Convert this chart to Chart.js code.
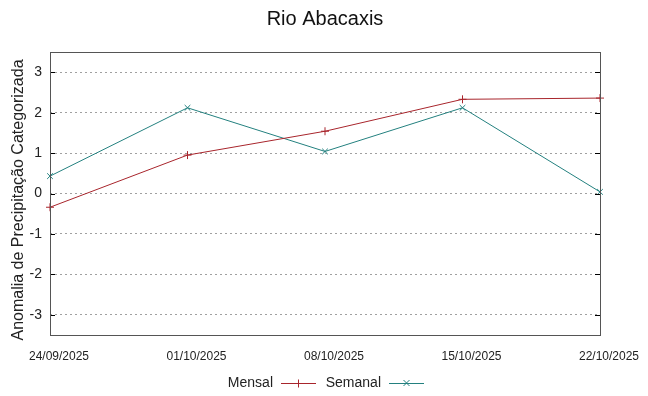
<!DOCTYPE html>
<html>
<head>
<meta charset="utf-8">
<script src="https://cdn.jsdelivr.net/npm/chart.js@4"></script>
<style>
  html, body { margin: 0; padding: 0; background: #fff; }
  #wrap { width: 648px; height: 396px; position: relative; }
</style>
</head>
<body>
<div id="wrap"><canvas id="riverChart"></canvas></div>
<script>
const title = 'Rio Abacaxis';
const yTitle = 'Anomalia de Precipitação Categorizada';
const dates = ['24/09/2025', '01/10/2025', '08/10/2025', '15/10/2025', '22/10/2025'];
const mensal = [-0.34, 0.95, 1.54, 2.33, 2.36];
const semanal = [0.43, 2.12, 1.04, 2.12, 0.04];
const yTicks = [-3, -2, -1, 0, 1, 2, 3];

const red = '#a8252c';
const teal = '#23807f';
const font = "'Liberation Sans', Arial, sans-serif";

// frame, tick marks, titles and bottom legend drawn by hand (gnuplot look)
const framePlugin = {
    id: 'frame',
    afterDatasetsDraw(chart) {
        const { ctx, chartArea: a, scales: { y } } = chart;
        ctx.save();
        ctx.strokeStyle = '#000';
        ctx.lineWidth = 1;
        yTicks.forEach(t => {
            const py = Math.round(y.getPixelForValue(t)) + 0.5;
            ctx.beginPath();
            ctx.moveTo(a.left, py); ctx.lineTo(a.left + 5, py);
            ctx.moveTo(a.right, py); ctx.lineTo(a.right - 5, py);
            ctx.stroke();
        });
        ctx.strokeStyle = '#555';
        ctx.strokeRect(Math.round(a.left) + 0.5, Math.round(a.top) + 0.5,
            Math.round(a.right - a.left), Math.round(a.bottom - a.top));
        ctx.restore();
    },
    afterDraw(chart) {
        const { ctx, chartArea: a } = chart;
        ctx.save();
        // main title
        ctx.fillStyle = '#111';
        ctx.font = '20px ' + font;
        ctx.textAlign = 'center';
        ctx.textBaseline = 'middle';
        ctx.fillText(title, 325, 19);
        // y axis title
        ctx.save();
        ctx.translate(19, 200);
        ctx.rotate(-Math.PI / 2);
        ctx.font = '16px ' + font;
        ctx.fillStyle = '#222';
        ctx.fillText(yTitle, 0, 0);
        ctx.restore();
        // legend
        const items = [
            { text: 'Mensal', color: red, x: 273, style: 'cross' },
            { text: 'Semanal', color: teal, x: 381, style: 'crossRot' }
        ];
        ctx.font = '14px ' + font;
        ctx.textAlign = 'right';
        const ly = 383;
        items.forEach(it => {
            ctx.fillStyle = '#222';
            ctx.fillText(it.text, it.x, ly);
            ctx.strokeStyle = it.color;
            ctx.lineWidth = 1;
            const x0 = it.x + 8, x1 = it.x + 43, mx = (x0 + x1) / 2;
            ctx.beginPath();
            ctx.moveTo(x0, ly + 0.5); ctx.lineTo(x1, ly + 0.5);
            if (it.style === 'cross') {
                ctx.moveTo(mx, ly - 3.5); ctx.lineTo(mx, ly + 4.5);
            } else {
                ctx.moveTo(mx - 3, ly - 3); ctx.lineTo(mx + 3, ly + 3);
                ctx.moveTo(mx - 3, ly + 3); ctx.lineTo(mx + 3, ly - 3);
            }
            ctx.stroke();
        });
        ctx.restore();
    }
};

const ctx = document.getElementById('riverChart').getContext('2d');
new Chart(ctx, {
    type: 'line',
    data: {
        labels: dates,
        datasets: [
            {
                label: 'Mensal',
                data: mensal,
                borderColor: red,
                backgroundColor: red,
                borderWidth: 1,
                pointStyle: 'cross',
                pointRadius: 4,
                pointBorderWidth: 1,
                tension: 0,
                fill: false,
                clip: 4
            },
            {
                label: 'Semanal',
                data: semanal,
                borderColor: teal,
                backgroundColor: teal,
                borderWidth: 1,
                pointStyle: 'crossRot',
                pointRadius: 4,
                pointBorderWidth: 1,
                tension: 0,
                fill: false,
                clip: 4
            }
        ]
    },
    options: {
        responsive: true,
        maintainAspectRatio: false,
        animation: false,
        layout: { padding: { top: 52, right: 48, bottom: 0, left: 0 } },
        scales: {
            x: {
                offset: false,
                grid: { display: false, drawTicks: false },
                border: { display: false },
                ticks: {
                    color: '#222',
                    font: { family: font, size: 12 },
                    maxRotation: 0,
                    autoSkip: false,
                    padding: 14,
                    labelOffset: 9
                },
                afterFit(scale) { scale.height = 61; }
            },
            y: {
                min: -3.5,
                max: 3.5,
                afterBuildTicks(scale) { scale.ticks = yTicks.map(v => ({ value: v })); },
                grid: {
                    color: '#a0a0a0',
                    lineWidth: 1,
                    drawTicks: false
                },
                border: { display: false, dash: [2, 3] },
                ticks: {
                    color: '#222',
                    font: { family: font, size: 14 },
                    padding: 8
                },
                afterFit(scale) { scale.width = 50; }
            }
        },
        plugins: {
            legend: { display: false },
            tooltip: { enabled: false },
            title: { display: false }
        }
    },
    plugins: [framePlugin]
});
</script>
</body>
</html>
